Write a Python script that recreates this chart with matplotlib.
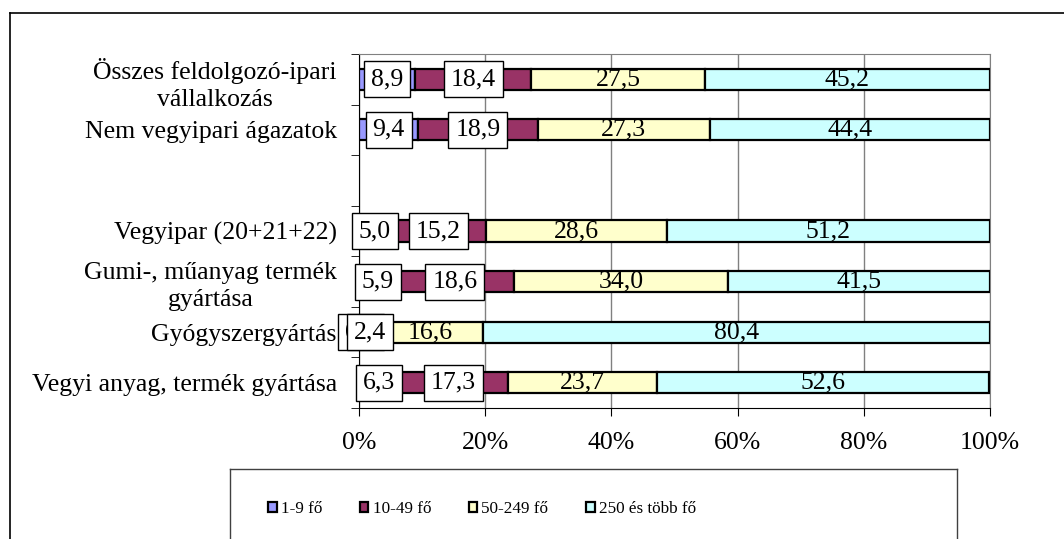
import matplotlib.pyplot as plt
import numpy as np
from matplotlib.lines import Line2D

plt.rcParams['font.family'] = ['Liberation Serif', 'DejaVu Serif']

# categories top to bottom (None = empty slot)
categories = ['Összes feldolgozó-ipari\nvállalkozás', 'Nem vegyipari ágazatok', None,
              'Vegyipar (20+21+22)', 'Gumi-, műanyag termék\ngyártása',
              'Gyógyszergyártás', 'Vegyi anyag, termék gyártása']
s_1_9 = [8.9, 9.4, None, 5.0, 5.9, 0.6, 6.3]
s_10_49 = [18.4, 18.9, None, 15.2, 18.6, 2.4, 17.3]
s_50_249 = [27.5, 27.3, None, 28.6, 34.0, 16.6, 23.7]
s_250 = [45.2, 44.4, None, 51.2, 41.5, 80.4, 52.6]
series_names = ['1-9 fő', '10-49 fő', '50-249 fő', '250 és több fő']
colors = ['#9999FF', '#993366', '#FFFFCC', '#CCFFFF']

fig = plt.figure(figsize=(10.64, 5.39), dpi=100)
ax = fig.add_axes([359/1064, 1-408/539, 631/1064, 354/539])

keep = [i for i, c in enumerate(categories) if c is not None]
n = len(categories)
ypos = np.array([n - 1 - i for i in keep])
labels = [categories[i] for i in keep]
data = [np.array([s[i] for i in keep]) for s in [s_1_9, s_10_49, s_50_249, s_250]]

fs = 18.5
left = np.zeros(len(keep))
bars = []
for vals, col, name in zip(data, colors, series_names):
    b = ax.barh(ypos, vals, left=left, height=0.42, color=col, edgecolor='black',
                linewidth=1.6, label=name, zorder=3)
    bars.append(b)
    left = left + vals

for k, (b, vals) in enumerate(zip(bars, data)):
    txt = [f"{v:.1f}".replace('.', ',') for v in vals]
    if k < 2:
        ax.bar_label(b, labels=txt, label_type='center', fontsize=fs, zorder=5,
                     bbox=dict(boxstyle='square,pad=0.27', fc='white', ec='black', lw=1))
    else:
        ax.bar_label(b, labels=txt, label_type='center', fontsize=fs, zorder=5)

ax.set_xlim(0, 100)
ax.set_ylim(-0.5, n - 0.5)
ax.set_xticks(np.arange(0, 101, 20))
ax.set_xticklabels([f"{v}%" for v in range(0, 101, 20)], fontsize=fs)
ax.tick_params(axis='x', length=6, pad=11, direction='out')
ax.set_yticks(ypos)
ax.set_yticklabels(labels, fontsize=fs, multialignment='center', linespacing=1.3)
ax.tick_params(axis='y', which='major', length=0, pad=16)
ax.set_yticks(np.arange(-0.5, n, 1.0), minor=True)
ax.tick_params(axis='y', which='minor', length=6, direction='out')

ax.grid(axis='x', color='#808080', linewidth=1, zorder=0)
ax.spines['top'].set_color('#808080')
ax.spines['right'].set_color('#808080')
ax.spines['left'].set_color('black')
ax.spines['bottom'].set_color('black')

# outer chart border
fig.add_artist(Line2D([10/1064, 10/1064], [0, 1-13/539], color='black', lw=1.2))
fig.add_artist(Line2D([10/1064, 1], [1-13/539, 1-13/539], color='black', lw=1.2))
# legend box
fig.add_artist(Line2D([230/1064, 230/1064], [0, 1-469/539], color='#404040', lw=1))
fig.add_artist(Line2D([230/1064, 957/1064], [1-469/539, 1-469/539], color='#404040', lw=1))
fig.add_artist(Line2D([957/1064, 957/1064], [0, 1-469/539], color='#404040', lw=1))

fig.legend(handles=bars, labels=series_names, loc='center', bbox_to_anchor=(482/1064, 1-509/539),
           ncol=4, frameon=False, fontsize=12.3, handlelength=0.5, handleheight=0.5,
           handletextpad=0.25, columnspacing=2.2)

fig.savefig('out.png', dpi=100)
